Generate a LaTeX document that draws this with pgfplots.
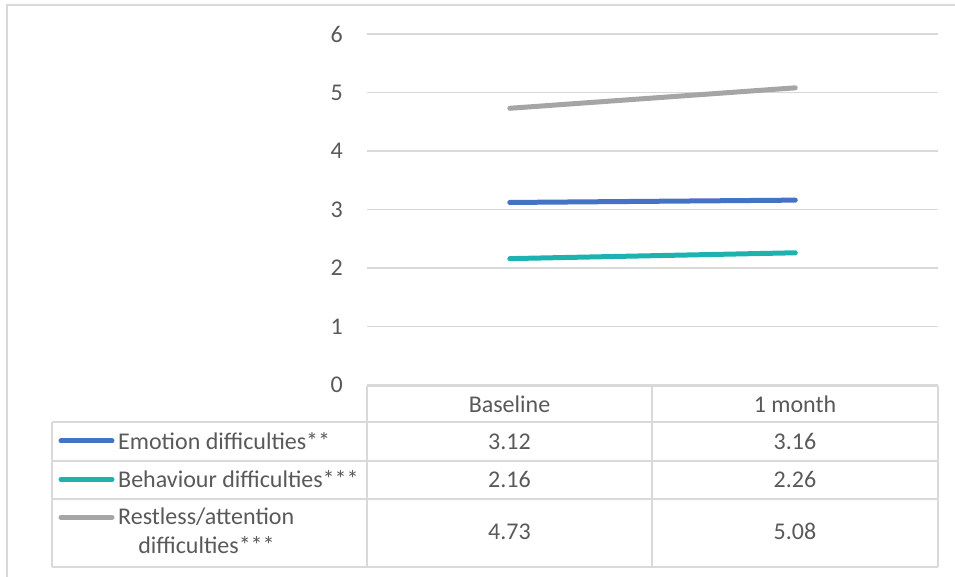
\documentclass[border=0pt]{standalone}
\usepackage{pgfplots}
\pgfplotsset{compat=1.18}
\usepackage{fontspec}
\setmainfont{Carlito}
\definecolor{txt}{HTML}{595959}
\definecolor{grd}{HTML}{D9D9D9}
\definecolor{cblue}{HTML}{4472C4}
\definecolor{cteal}{HTML}{1DB2B0}
\definecolor{cgray}{HTML}{A5A5A5}
\begin{document}
\begin{tikzpicture}[x=1pt,y=1pt,font=\fontsize{24}{28}\selectfont]
\path[use as bounding box] (0,0) rectangle (955,577);
% outer frame (cropped)
\draw[grd,line width=2pt] (7,0) -- (7,572) -- (955,572);
\begin{axis}[
  at={(367pt,192pt)}, anchor=south west,
  scale only axis, width=571pt, height=351pt,
  xmin=0, xmax=2, ymin=0, ymax=6,
  ytick={0,1,2,3,4,5,6}, xtick=\empty,
  axis line style={draw=none},
  major tick length=0pt,
  ymajorgrids, grid style={grd,line width=1.5pt},
  /pgf/number format/assume math mode=true,
  yticklabel style={anchor=east, inner sep=0pt, xshift=-24pt, text=txt, font=\fontsize{24}{28}\selectfont},
  clip=false,
]
\addplot[cblue, line width=5pt, line cap=round] coordinates {(0.5,3.12) (1.5,3.16)};
\addplot[cteal, line width=5pt, line cap=round] coordinates {(0.5,2.16) (1.5,2.26)};
\addplot[cgray, line width=5pt, line cap=round] coordinates {(0.5,4.73) (1.5,5.08)};
\end{axis}
% data table lines
\begin{scope}[grd, line width=1.5pt]
\draw (367,191) -- (938,191);
\draw (52,155) -- (938,155);
\draw (52,116) -- (938,116);
\draw (52,78) -- (938,78);
\draw (52,10) -- (938,10);
\draw (52,155) -- (52,10);
\draw (367,191) -- (367,10);
\draw (652,191) -- (652,10);
\draw (938,191) -- (938,10);
\end{scope}
% legend keys
\draw[cblue, line width=5pt, line cap=round] (61,136) -- (112,136);
\draw[cteal, line width=5pt, line cap=round] (61,97.7) -- (112,97.7);
\draw[cgray, line width=5pt, line cap=round] (61,59.7) -- (112,59.7);
\begin{scope}[every node/.style={inner sep=0pt, text=txt}]
\node[anchor=base west] at (118,127.7) {Emotion difficulties**};
\node[anchor=base west] at (118,89.7) {Behaviour difficulties***};
\node[anchor=base west] at (118,52) {Restless/attention};
\node[anchor=base] at (206.5,23.7) {difficulties***};
\node[anchor=base] at (509.5,164.7) {Baseline};
\node[anchor=base] at (795,164.7) {1 month};
\node[anchor=base] at (509.5,127.7) {3.12};
\node[anchor=base] at (795,127.7) {3.16};
\node[anchor=base] at (509.5,89.7) {2.16};
\node[anchor=base] at (795,89.7) {2.26};
\node[anchor=base] at (509.5,37) {4.73};
\node[anchor=base] at (795,37) {5.08};
\end{scope}
\end{tikzpicture}
\end{document}
